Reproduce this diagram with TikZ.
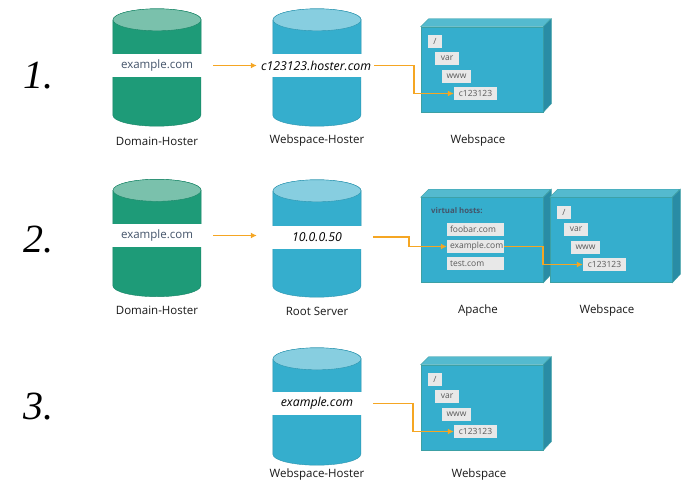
\documentclass[tikz,border=0pt]{standalone}
\usepackage{fontspec}
\setmainfont{Open Sans}
\newfontfamily\numfont{Liberation Serif}
\usetikzlibrary{arrows.meta}
\definecolor{greenbody}{RGB}{30,155,120}
\definecolor{greentop}{RGB}{122,193,172}
\definecolor{bluebody}{RGB}{53,174,205}
\definecolor{bluetop}{RGB}{135,206,224}
\definecolor{cubetopc}{RGB}{84,186,207}
\definecolor{cubeside}{RGB}{41,140,165}
\definecolor{cubeedge}{RGB}{60,160,165}
\definecolor{flowc}{RGB}{245,166,35}
\definecolor{textc}{RGB}{68,84,106}
\tikzset{
	drum/.style={minimum width=88pt,minimum height=117pt,inner sep=0pt},
	band/.style={fill=white,minimum width=92pt,minimum height=23pt,inner sep=0pt,font=\fontsize{11.5}{13}\selectfont},
	hostname/.style={band,font=\itshape\fontsize{12.3}{14}\selectfont},
	front/.style={draw=cubeedge,fill=bluebody,minimum width=122pt,minimum height=85pt,inner sep=0pt,line width=0.6pt},
	entry/.style={fill=black!9,text=black!65,minimum height=13pt,inner sep=0pt,font=\fontsize{8.5}{10}\selectfont},
	caption/.style={text=black!90,font=\fontsize{11.5}{14}\selectfont},
	number/.style={font=\numfont\itshape\fontsize{40}{46}\selectfont},
	flow/.style={draw=flowc,line width=1.5pt,-{Latex[length=6pt,width=6pt]}}
}
\newcommand{\drumfaces}[2]{%
	\filldraw[draw=#2body!85!black,fill=#2body,line width=0.4pt] ([yshift=-11pt]#1.north west)--([yshift=11pt]#1.south west)
		arc[start angle=180,end angle=360,x radius=44pt,y radius=11pt]--([yshift=-11pt]#1.north east)
		arc[start angle=0,end angle=180,x radius=44pt,y radius=11pt]--cycle;
	\filldraw[draw=#2body!85!black,fill=#2top,line width=0.4pt] ([yshift=-11pt]#1.north) ellipse[x radius=44pt,y radius=11pt];}
\newcommand{\cubefaces}[1]{%
	\filldraw[draw=cubeedge,fill=cubetopc,line width=0.4pt] (#1.north west)--++(8,-8)--++(122,0)--(#1.north east)--cycle;
	\filldraw[draw=cubeedge,fill=cubeside,line width=0.4pt] (#1.north east)--++(8,-8)--++(0,85)--(#1.south east)--cycle;}
\begin{document}
\begin{tikzpicture}[x=1pt,y=-1pt]
	\useasboundingbox (0,0) rectangle (700,493);
	\fill[white] (0,0) rectangle (700,493);
	% row 1
	\node[number] (one) at (38,76){1.};
	\node[drum] (dom1) at (157,67.5){};
	\drumfaces{dom1}{green}
	\node[band,text=textc] (ex1) at (157,65.5){example.com};
	\node[caption] (domcap1) at (157,141){Domain-Hoster};
	\node[drum] (host1) at (317,67.5){};
	\drumfaces{host1}{blue}
	\node[hostname,minimum width=112pt] (cname1) at (316,65.5){c123123.hoster.com};
	\node[caption] (hostcap1) at (317,141){Webspace-Hoster};
	\node[front] (web1) at (482,69.5){};
	\cubefaces{web1}
	\node[entry,minimum width=14pt] (root1) at (435,41.5){/};
	\node[entry,minimum width=24pt] (var1) at (447,58.5){var};
	\node[entry,minimum width=29pt] (www1) at (456.5,76.5){www};
	\node[entry,minimum width=43pt] (dir1) at (475.5,93.5){c123123};
	\node[caption] (webcap1) at (478,141){Webspace};
	\draw[flow,shorten <=10pt,shorten >=3pt] (ex1)--(cname1);
	\draw[flow,shorten <=2pt] (cname1.east)--++(42,0)|-(dir1.west);
	% row 2
	\node[number] (two) at (38,240){2.};
	\node[drum] (dom2) at (157,238){};
	\drumfaces{dom2}{green}
	\node[band,text=textc] (ex2) at (157,235.5){example.com};
	\node[caption] (domcap2) at (157,310){Domain-Hoster};
	\node[drum] (host2) at (317,238.5){};
	\drumfaces{host2}{blue}
	\node[hostname] (ip2) at (317,237){10.0.0.50};
	\node[caption] (hostcap2) at (317,311){Root Server};
	\node[front] (apache) at (482,240){};
	\cubefaces{apache}
	\node[front] (web2) at (611,240){};
	\cubefaces{web2}
	\node[anchor=west,text=textc,font=\bfseries\fontsize{7.8}{9}\selectfont,inner sep=0pt] (vhosts) at (431,211){virtual hosts:};
	\node[entry,minimum width=57pt,text width=51pt] (foobar) at (475.5,229.5){foobar.com};
	\node[entry,minimum width=57pt,text width=51pt] (example) at (475.5,246.5){example.com};
	\node[entry,minimum width=57pt,text width=51pt] (test) at (475.5,263.5){test.com};
	\node[entry,minimum width=14pt] (root2) at (564,212){/};
	\node[entry,minimum width=24pt] (var2) at (576,229.5){var};
	\node[entry,minimum width=29pt] (www2) at (585.5,247){www};
	\node[entry,minimum width=43pt] (dir2) at (604.5,264.5){c123123};
	\node[caption] (apachecap) at (478,311){Apache};
	\node[caption] (webcap2) at (607,311){Webspace};
	\draw[flow,shorten <=10pt,shorten >=14pt] (ex2.east)--(ip2.west|-ex2.east);
	\draw[flow,shorten <=10pt] (ip2.east)--++(46,0)|-(example.west);
	\draw[flow] (example.east)--++(39,0)|-(dir2.west);
	% row 3
	\node[number] (three) at (38,407){3.};
	\node[drum] (host3) at (317,406.5){};
	\drumfaces{host3}{blue}
	\node[hostname] (ex3) at (317,403.5){example.com};
	\node[caption] (hostcap3) at (317,475){Webspace-Hoster};
	\node[front] (web3) at (482,407.5){};
	\cubefaces{web3}
	\node[entry,minimum width=14pt] (root3) at (435,379.5){/};
	\node[entry,minimum width=24pt] (var3) at (447,396.5){var};
	\node[entry,minimum width=29pt] (www3) at (456.5,414.5){www};
	\node[entry,minimum width=43pt] (dir3) at (475.5,431.5){c123123};
	\node[caption] (webcap3) at (479,475){Webspace};
	\draw[flow,shorten <=10pt] (ex3.east)--++(50,0)|-(dir3.west);
\end{tikzpicture}
\end{document}
